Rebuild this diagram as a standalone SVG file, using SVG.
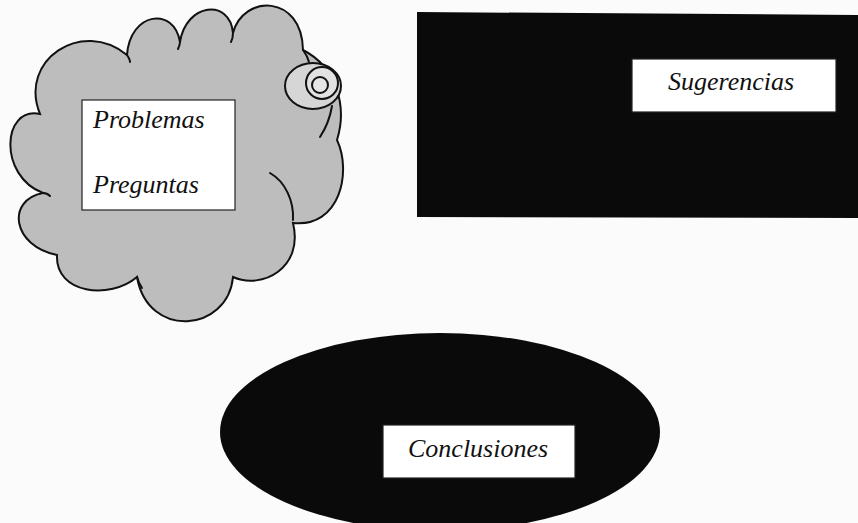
<svg xmlns="http://www.w3.org/2000/svg" width="858" height="523" viewBox="0 0 858 523">
<style>
.lbl{font-family:"Liberation Serif","Times New Roman",serif;font-style:italic;font-size:26px;fill:#111}
.box{fill:#fff;stroke:#222;stroke-width:1.2}
.ln{fill:none;stroke:#111;stroke-width:2;stroke-linecap:round}
</style>
<rect width="858" height="523" fill="#fbfbfb"/>
<g id="cloud">
<path d="M40,114 C18,60 82,18 127,55 C130,12 174,6 180,42 C186,3 230,-2 233,33 C243,-6 302,-6 303,50 C338,68 347,108 337,140 C352,172 340,228 293,223 C304,268 262,290 233,277 C228,332 148,340 137,277 C110,300 55,294 57,255 C12,246 6,200 43,193 C-2,176 2,106 40,114 Z" fill="#bdbdbd" stroke="#111" stroke-width="2"/>
<path class="ln" d="M270,173 C286,182 294,202 293,220"/>
<path class="ln" d="M127,55 C129,58 130,60 130,62"/>
<path class="ln" d="M180,42 C180,45 179,47 178,49"/>
<path class="ln" d="M233,33 C233,37 232,40 231,42"/>
<path class="ln" d="M43,193 C46,193 48,194 50,196"/>
<path class="ln" d="M137,277 C138,281 140,285 142,288"/>
<path class="ln" d="M303,50 C306,54 308,58 309,62"/>
<ellipse cx="313" cy="86" rx="28" ry="23" fill="#d6d6d6" stroke="#111" stroke-width="2"/>
<circle cx="322" cy="83" r="16" fill="#e2e2e2" stroke="#111" stroke-width="2"/>
<circle cx="320" cy="85" r="8" fill="#e6e6e6" stroke="#111" stroke-width="2"/>
<path class="ln" d="M332,106 C330,118 326,128 320,137"/>
<rect class="box" x="82" y="100" width="153" height="110"/>
<text class="lbl" x="93" y="128">Problemas</text>
<text class="lbl" x="93" y="193">Preguntas</text>
</g>
<g id="sugerencias">
<polygon points="417,12 858,15 858,218 417,217" fill="#0a0a0a"/>
<rect class="box" x="632" y="59" width="204" height="53" stroke="none"/>
<text class="lbl" x="668" y="90">Sugerencias</text>
</g>
<g id="conclusiones">
<ellipse cx="440" cy="432" rx="220" ry="99" fill="#0a0a0a"/>
<rect class="box" x="383" y="425" width="192" height="53" stroke="none"/>
<text class="lbl" x="408" y="457">Conclusiones</text>
</g>
<g id="connectors"></g>
</svg>
